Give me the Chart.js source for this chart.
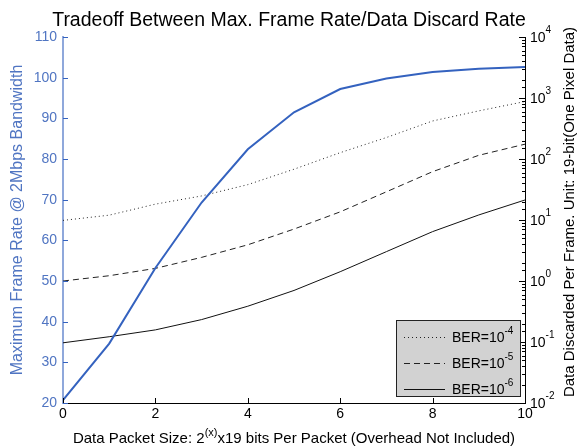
<!DOCTYPE html>
<html>
<head>
<meta charset="utf-8">
<script src="https://cdn.jsdelivr.net/npm/chart.js@4.4.1/dist/chart.umd.min.js"></script>
<style>
html, body { margin: 0; padding: 0; background: #fff; }
canvas { display: block; }
</style>
</head>
<body>
<canvas id="canvas" width="577" height="446"></canvas>
<script>
// packet size exponent x (packet = 2^x * 19 bits)
let packetExp = [0, 1, 2, 3, 4, 5, 6, 7, 8, 9, 10];
// left axis: max frame rate @ 2Mbps
let frameRate = [20.7, 34.6, 53.2, 69.3, 82.4, 91.5, 97.2, 99.8, 101.4, 102.2, 102.6];
// right axis (log): data discarded per frame
let discardBer4 = [9.85, 12.0, 18.2, 24.8, 38, 68, 127, 225, 420, 615, 875];
let discardBer5 = [1.0, 1.22, 1.61, 2.44, 3.92, 7.1, 13.6, 29, 62, 115, 175];
let discardBer6 = [0.097, 0.122, 0.158, 0.233, 0.386, 0.70, 1.42, 3.03, 6.45, 12.1, 21.3];

let seriesNames = ['BER=10', 'BER=10', 'BER=10'];
let seriesExp = ['-4', '-5', '-6'];
let rightTickExp = [4, 3, 2, 1, 0, -1, -2];

const FONT = '"Liberation Sans", Arial, sans-serif';
const BLUE = '#3462bf';
const BLUE_TXT = '#5075c2';

Chart.defaults.font.family = FONT;

function pts(vals) {
  return vals.map((v, i) => ({ x: packetExp[i], y: v }));
}

// draw a run of text pieces, some as superscript
function textRun(ctx, parts, x, y, size, align, color, raise) {
  let w = 0;
  parts.forEach(p => {
    ctx.font = (p[1] ? Math.round(size * 0.72) : size) + 'px ' + FONT;
    w += ctx.measureText(p[0]).width;
  });
  let cx = align === 'center' ? x - w / 2 : (align === 'right' ? x - w : x);
  ctx.fillStyle = color;
  ctx.textAlign = 'left';
  ctx.textBaseline = 'alphabetic';
  parts.forEach(p => {
    ctx.font = (p[1] ? Math.round(size * 0.72) : size) + 'px ' + FONT;
    ctx.fillText(p[0], cx, p[1] ? y - size * raise : y);
    cx += ctx.measureText(p[0]).width;
  });
}

function seg(ctx, x1, y1, x2, y2) {
  ctx.beginPath();
  ctx.moveTo(x1, y1);
  ctx.lineTo(x2, y2);
  ctx.stroke();
}

const decor = {
  id: 'decor',
  afterDraw(chart) {
    const ctx = chart.ctx;
    const a = chart.chartArea;
    const xs = chart.scales.x, yl = chart.scales.y, yr = chart.scales.y2;
    ctx.save();
    ctx.lineWidth = 1;

    // inward ticks, left
    ctx.strokeStyle = BLUE;
    yl.ticks.forEach(t => {
      let py = Math.round(yl.getPixelForValue(t.value)) + 0.5;
      seg(ctx, a.left, py, a.left + 5, py);
    });
    // bottom
    ctx.strokeStyle = '#000';
    xs.ticks.forEach(t => {
      let px = Math.round(xs.getPixelForValue(t.value)) + 0.5;
      seg(ctx, px, a.bottom, px, a.bottom - 5);
    });
    // right (log, with minor ticks)
    yr.ticks.forEach(t => {
      let lg = Math.log10(t.value);
      let major = Math.abs(lg - Math.round(lg)) < 1e-6;
      let py = Math.round(yr.getPixelForValue(t.value)) + 0.5;
      seg(ctx, a.right, py, a.right - (major ? 6 : 3), py);
    });

    // right tick labels 10^n
    rightTickExp.forEach(e => {
      let py = yr.getPixelForValue(Math.pow(10, e));
      textRun(ctx, [['10', false], [String(e), true]], a.right + 5, py + 5, 14, 'left', '#000', 0.62);
    });

    // title
    ctx.font = '19.5px ' + FONT;
    ctx.fillStyle = '#000';
    ctx.textAlign = 'center';
    ctx.textBaseline = 'alphabetic';
    ctx.fillText('Tradeoff Between Max. Frame Rate/Data Discard Rate', 289, 26);

    // x axis title
    textRun(ctx, [['Data Packet Size: 2', false], ['(x)', true], ['x19 bits Per Packet (Overhead Not Included)', false]],
      (a.left + a.right) / 2, 443, 15, 'center', '#000', 0.5);

    // left axis title
    ctx.save();
    ctx.translate(18, (a.top + a.bottom) / 2);
    ctx.rotate(-Math.PI / 2);
    ctx.font = '16px ' + FONT;
    ctx.fillStyle = BLUE_TXT;
    ctx.textAlign = 'center';
    ctx.textBaseline = 'middle';
    ctx.fillText('Maximum Frame Rate @ 2Mbps Bandwidth', 0, 0);
    ctx.restore();

    // right axis title
    ctx.save();
    ctx.translate(570, (a.top + a.bottom) / 2 - 8);
    ctx.rotate(-Math.PI / 2);
    ctx.font = '15px ' + FONT;
    ctx.fillStyle = '#000';
    ctx.textAlign = 'center';
    ctx.textBaseline = 'middle';
    ctx.fillText('Data Discarded Per Frame. Unit: 19-bit(One Pixel Data)', 0, 0);
    ctx.restore();

    // legend box
    const lx = 396.5, ly = 320.5, lw = 124, lh = 76;
    ctx.fillStyle = '#d2d2d2';
    ctx.fillRect(lx, ly, lw, lh);
    ctx.strokeStyle = '#222';
    ctx.setLineDash([]);
    ctx.strokeRect(lx, ly, lw, lh);
    const ds = chart.data.datasets;
    [1, 2, 3].forEach((di, k) => {
      let d = ds[di];
      let ry = 337 + k * 25.8;
      ctx.strokeStyle = d.borderColor;
      ctx.lineWidth = d.borderWidth;
      ctx.setLineDash(d.borderDash || []);
      seg(ctx, 404, Math.round(ry) + 0.5, 445, Math.round(ry) + 0.5);
      ctx.setLineDash([]);
      textRun(ctx, [[seriesNames[k], false], [seriesExp[k], true]], 452, ry + 5, 14, 'left', '#000', 0.55);
    });
    ctx.restore();
  }
};

new Chart(document.getElementById('canvas').getContext('2d'), {
  type: 'line',
  data: {
    datasets: [
      {
        label: 'Max frame rate',
        data: pts(frameRate),
        yAxisID: 'y',
        borderColor: BLUE,
        borderWidth: 2,
        pointRadius: 0,
        tension: 0
      },
      {
        label: 'BER=1e-4',
        data: pts(discardBer4),
        yAxisID: 'y2',
        borderColor: '#222',
        borderWidth: 1,
        borderDash: [1, 3],
        pointRadius: 0,
        tension: 0
      },
      {
        label: 'BER=1e-5',
        data: pts(discardBer5),
        yAxisID: 'y2',
        borderColor: '#222',
        borderWidth: 1,
        borderDash: [6, 4],
        pointRadius: 0,
        tension: 0
      },
      {
        label: 'BER=1e-6',
        data: pts(discardBer6),
        yAxisID: 'y2',
        borderColor: '#111',
        borderWidth: 1,
        pointRadius: 0,
        tension: 0
      }
    ]
  },
  options: {
    responsive: false,
    animation: false,
    devicePixelRatio: 1,
    layout: { padding: { top: 37, left: 0, right: 0, bottom: 0 } },
    plugins: {
      legend: { display: false },
      tooltip: { enabled: false },
      title: { display: false }
    },
    scales: {
      x: {
        type: 'linear',
        position: 'bottom',
        min: 0,
        max: 10,
        ticks: { stepSize: 2, color: '#000', font: { size: 14 }, padding: 3, maxRotation: 0 },
        grid: { display: false, drawTicks: false },
        border: { color: '#000', width: 1 },
        afterFit(s) { s.height = 43; }
      },
      y: {
        type: 'linear',
        position: 'left',
        min: 20,
        max: 110,
        ticks: { stepSize: 10, color: BLUE_TXT, font: { size: 14 }, padding: 6 },
        grid: { display: false, drawTicks: false },
        border: { color: '#8fa8db', width: 2 },
        afterFit(s) { s.width = 63; }
      },
      y2: {
        type: 'logarithmic',
        position: 'right',
        min: 0.01,
        max: 10000,
        ticks: { display: false },
        grid: { display: false, drawTicks: false },
        border: { color: '#000', width: 1 },
        afterFit(s) { s.width = 52; }
      }
    }
  },
  plugins: [decor]
});
</script>
</body>
</html>
